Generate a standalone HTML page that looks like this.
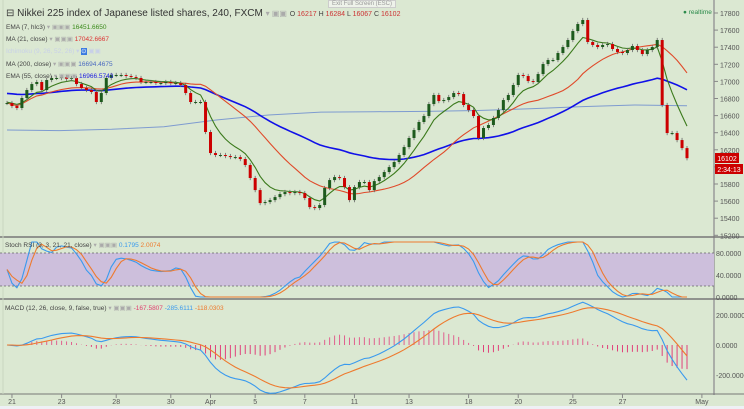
<!DOCTYPE html>
<html><head><meta charset="utf-8"><style>
html,body{margin:0;padding:0;background:#dbe8d2;font-family:"Liberation Sans",sans-serif;}
#wrap{position:relative;width:744px;height:409px;overflow:hidden;font-family:"Liberation Sans",sans-serif;}
svg text{font-family:"Liberation Sans",sans-serif;}
div{font-family:"Liberation Sans",sans-serif;}
</style></head><body>
<div id="wrap">
<svg id="c" width="744" height="409" xmlns="http://www.w3.org/2000/svg"></svg>
</div>
<script>
const closes=[16747,16712,16689,16806,16899,16969,16993,16899,17016,17040,17040,17051,17028,17040,16969,16923,16899,16876,16759,16864,17040,17075,17075,17075,17063,17051,17040,16993,16993,16993,16981,16981,16993,16981,16981,16958,16864,16759,16759,16759,16408,16162,16139,16139,16127,16115,16115,16092,16022,15870,15729,15577,15589,15612,15647,15682,15706,15694,15706,15694,15636,15530,15519,15554,15753,15846,15881,15870,15764,15612,15764,15823,15823,15729,15834,15881,15940,15998,16057,16139,16232,16338,16431,16525,16595,16735,16841,16770,16782,16817,16864,16852,16724,16665,16595,16338,16455,16490,16572,16665,16782,16841,16958,17075,17063,17004,16993,17086,17203,17250,17250,17332,17402,17484,17589,17671,17718,17461,17426,17402,17426,17437,17379,17344,17332,17367,17414,17367,17320,17367,17402,17484,16724,16396,16396,16314,16220,16102];
const ma200=[16432,16425,16440,16470,16548,16607,16640,16645,16650,16660,16680,16705,16724,16715];
const priceTicks=[17800,17600,17400,17200,17000,16800,16600,16400,16200,16000,15800,15600,15400,15200];
const dateLabels=["21","23","28","30","Apr","5","7","11","13","18","20","25","27","May"];
const dateBars=[1,11,22,33,41,50,60,70,81,93,103,114,124,140];
const stochTicks=[80,40,0];
const macdTicks=[200,0,-200];

const S=document.getElementById('c');const NS='http://www.w3.org/2000/svg';
function el(t,a,p){const e=document.createElementNS(NS,t);for(const k in a)e.setAttribute(k,a[k]);(p||S).appendChild(e);return e;}
const n=closes.length,x0=7,x1=687;
const xOf=i=>x0+i*(x1-x0)/(n-1);
const yP=p=>13+(17800-p)*0.0855;
const yS=v=>297-v*0.55;
const yM=v=>345-v*0.15;
function ema(a,p){const k=2/(p+1);const r=[];let v=a[0];for(const c of a){v=c*k+v*(1-k);r.push(v);}return r;}
function emaSeed(a,p,s){const k=2/(p+1);const r=[];let v=s;for(const c of a){v=c*k+v*(1-k);r.push(v);}return r;}
function sma(a,p){return a.map((_,i)=>{const s=a.slice(Math.max(0,i-p+1),i+1);return s.reduce((x,y)=>x+y,0)/s.length;});}
function path(vals,fy,attrs,name){let d='';vals.forEach((v,i)=>{if(v==null)return;d+=(d?'L':'M')+xOf(i).toFixed(1)+' '+fy(v).toFixed(1);});const p=el('path',Object.assign({d:d,fill:'none'},attrs));return p;}

let g;
g=el('line',{x1:714,y1:0,x2:714,y2:395,stroke:'#9a9a9a','stroke-width':1.5});
g=el('line',{x1:0,y1:237,x2:744,y2:237,stroke:'#777','stroke-width':1.5});
g=el('line',{x1:0,y1:299,x2:744,y2:299,stroke:'#777','stroke-width':1.5});
g=el('line',{x1:0,y1:394,x2:744,y2:394,stroke:'#777','stroke-width':1});
g=el('rect',{x:0,y:406,width:744,height:3,fill:'#eef0f5'});
g=el('line',{x1:3,y1:0,x2:3,y2:394,stroke:'#c9d6c0','stroke-width':1});

priceTicks.forEach(p=>{const y=yP(p);
 let t=el('line',{x1:714,y1:y,x2:718,y2:y,stroke:'#888'});
 let tx=el('text',{x:720,y:y+3,'font-size':7,fill:'#555'});tx.textContent=p;});

{let d='';ma200.forEach((v,i)=>{const x=x0+i*(x1-x0)/(ma200.length-1);d+=(d?'L':'M')+x+' '+yP(v);});g=el('path',{d:d,fill:'none',stroke:'#7e9bd0','stroke-width':1});}
const e55=emaSeed(closes,55,16864),m21=sma(closes,21),e7=emaSeed(closes,7,16760);
path(e55,yP,{stroke:'#1010e8','stroke-width':1.6},'ema-55-line');
path(m21,yP,{stroke:'#e04a2a','stroke-width':1.1},'ma-21-line');
path(e7,yP,{stroke:'#3b7a1c','stroke-width':1.1},'ema-7-line');
closes.forEach((c,i)=>{const o=i?closes[i-1]:c;const x=xOf(i);const up=c>=o;
 const hi=Math.max(o,c)+25,lo=Math.min(o,c)-25;
 let w=el('line',{x1:x,y1:yP(hi),x2:x,y2:yP(lo),stroke:'#666','stroke-width':0.8});
 const t=yP(Math.max(o,c)),b=yP(Math.min(o,c));
 let r=el('rect',{x:x-1.5,y:t,width:3,height:Math.max(1,b-t),fill:up?'#1d5a1d':'#cc0000'});});

g=el('rect',{x:0,y:yS(80),width:714,height:yS(20)-yS(80),fill:'#cdbfdc'});
[80,20].forEach(v=>{let l=el('line',{x1:0,y1:yS(v),x2:714,y2:yS(v),stroke:'#666','stroke-dasharray':'2,2','stroke-width':0.8});});
const rsi=[];{let ag=0,al=0;closes.forEach((c,i)=>{if(i===0){rsi.push(50);ag=10;al=10;return;}const d=c-closes[i-1];ag=(ag*20+Math.max(d,0))/21;al=(al*20+Math.max(-d,0))/21;rsi.push(100-100/(1+ag/(al||1e-9)));});}
const st=rsi.map((r,i)=>{const s=rsi.slice(Math.max(0,i-20),i+1);const mn=Math.min(...s),mx=Math.max(...s);return mx>mn?(r-mn)/(mx-mn)*100:50;});
const K=sma(st,3),D=sma(K,3);
path(K,yS,{stroke:'#3a9aee','stroke-width':1.1},'stoch-k-line');
path(D,yS,{stroke:'#ee7a2e','stroke-width':1.1},'stoch-d-line');
stochTicks.forEach(v=>{let tx=el('text',{x:716,y:yS(v)+3,'font-size':7,fill:'#555'});tx.textContent=v.toFixed(4);});

const e12=ema(closes,12),e26=ema(closes,26);const macd=e12.map((v,i)=>v-e26[i]);const sig=ema(macd,9);
macd.forEach((m,i)=>{const h=m-sig[i];const x=xOf(i);let l=el('line',{x1:x,y1:yM(0),x2:x,y2:yM(h),stroke:h>=0?'#e0608e':'#e0407a','stroke-width':1});});
path(macd,yM,{stroke:'#3a9aee','stroke-width':1.1},'macd-line');
path(sig,yM,{stroke:'#ee7a2e','stroke-width':1.1},'macd-signal-line');
macdTicks.forEach(v=>{let tx=el('text',{x:716,y:yM(v)+3,'font-size':7,fill:'#555'});tx.textContent=v.toFixed(4);});

dateLabels.forEach((l,i)=>{const x=x0+dateBars[i]*(x1-x0)/(n-1);
 let t=el('line',{x1:x,y1:394,x2:x,y2:398,stroke:'#888'});
 let tx=el('text',{x:x,y:404,'font-size':7,fill:'#555','text-anchor':'middle'});tx.textContent=l;});

g=el('rect',{x:715,y:153,width:24,height:10,fill:'#cc0000'});
g=el('text',{x:727,y:161,'font-size':7,fill:'#fff','text-anchor':'middle'});g.textContent='16102';
g=el('rect',{x:715,y:164,width:28,height:10,fill:'#cc0000'});
g=el('text',{x:729,y:172,'font-size':7,fill:'#fff','text-anchor':'middle'});g.textContent='2:34:13';
</script>
<div style="position:absolute;left:6px;top:7px;font-size:6.5px;color:#444;line-height:12.2px;">
<div style="font-size:10px;line-height:14px;color:#333;">⊟ Nikkei 225 index of Japanese listed shares, 240, FXCM <span style="color:#aaa;font-size:8px">▾ ▣▣</span> <span style="font-size:7px;color:#444">O <b style="color:#c33;font-weight:normal">16217</b> H <b style="color:#c33;font-weight:normal">16284</b> L <b style="color:#c33;font-weight:normal">16067</b> C <b style="color:#c33;font-weight:normal">16102</b></span></div>
<div>EMA (7, hlc3) <span style="color:#aaa">▾ ▣▣▣</span> <span style="color:#3a8a1a">16451.6650</span></div>
<div>MA (21, close) <span style="color:#aaa">▾ ▣▣▣</span> <span style="color:#d33">17042.6667</span></div>
<div style="color:#c8d0e8">Ichimoku (9, 26, 52, 26) ▾ <span style="background:#3a7ae0;color:#fff">⊙</span> ▣▣</div>
<div>MA (200, close) <span style="color:#aaa">▾ ▣▣▣</span> <span style="color:#4a6ac0">16694.4675</span></div>
<div>EMA (55, close) <span style="color:#aaa">▾ ▣▣▣</span> <span style="color:#2020e0">16966.5743</span></div>
</div>
<div style="position:absolute;left:328px;top:0;font-size:6px;color:#999;background:#eef2ea;border:1px solid #ccc;padding:0 3px;">Exit Full Screen (ESC)</div>
<div style="position:absolute;left:683px;top:9px;font-size:6.5px;color:#2a8a4a;">● realtime</div>
<div style="position:absolute;left:5px;top:241px;font-size:6.5px;color:#444;">Stoch RSI (3, 3, 21, 21, close) <span style="color:#aaa">▾ ▣▣▣</span> <span style="color:#3a9aee">0.1795</span> <span style="color:#ee7a2e">2.0074</span></div>
<div style="position:absolute;left:5px;top:304px;font-size:6.5px;color:#444;">MACD (12, 26, close, 9, false, true) <span style="color:#aaa">▾ ▣▣▣</span> <span style="color:#e04070">-167.5807</span> <span style="color:#3a9aee">-285.6111</span> <span style="color:#ee7a2e">-118.0303</span></div>
</body></html>
